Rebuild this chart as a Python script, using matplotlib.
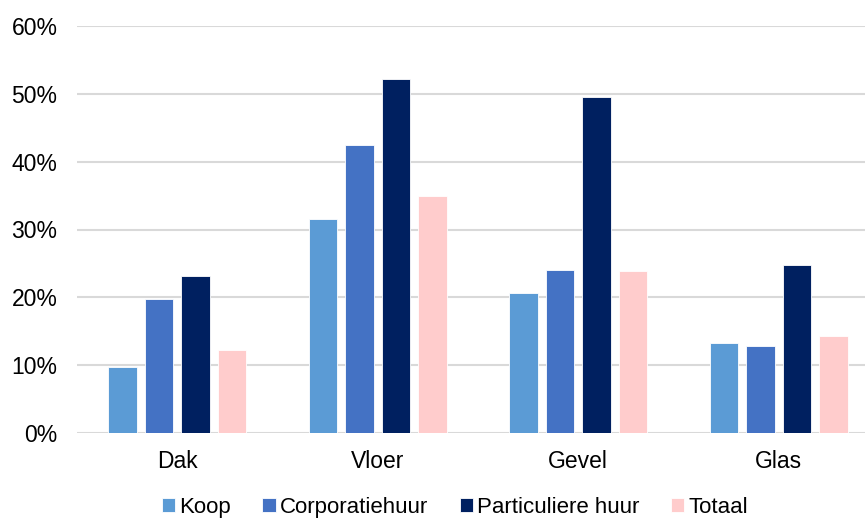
import matplotlib
matplotlib.use("Agg")
import matplotlib.pyplot as plt
import numpy as np
from matplotlib.ticker import FuncFormatter

categories = ["Dak", "Vloer", "Gevel", "Glas"]
series_names = ["Koop", "Corporatiehuur", "Particuliere huur", "Totaal"]
koop = [9.7, 31.5, 20.6, 13.2]
corporatiehuur = [19.7, 42.4, 24.0, 12.8]
particuliere_huur = [23.1, 52.2, 49.6, 24.8]
totaal = [12.3, 34.9, 23.9, 14.3]
colors = ["#5B9BD5", "#4472C4", "#002060", "#FFCCCC"]

plt.rcParams['font.family'] = ['Liberation Sans', 'DejaVu Sans']

fig = plt.figure(figsize=(8.65, 5.18), dpi=100)
ax = fig.add_axes([77/865, 1-433/518, (879-77)/865, (433-26)/518])

x = np.arange(len(categories))
width = 0.14
step = 0.182
all_series = [koop, corporatiehuur, particuliere_huur, totaal]
for i, (vals, name, c) in enumerate(zip(all_series, series_names, colors)):
    ax.bar(x + (i - 1.5) * step, np.array(vals) / 100, width=width, color=c,
           label=name, zorder=3, edgecolor='white', linewidth=0.6)

ax.set_xlim(-0.5, len(categories) - 0.5)
ax.set_ylim(0, 0.6)
ax.set_yticks(np.arange(0, 0.61, 0.1))
ax.yaxis.set_major_formatter(FuncFormatter(lambda v, p: f"{v*100:.0f}%"))
ax.set_xticks(x)
ax.set_xticklabels(categories)
ax.grid(axis='y', color='#D9D9D9', linewidth=1.5, zorder=0)
ax.tick_params(axis='both', length=0, labelsize=16.5, colors='#000000')
ax.tick_params(axis='x', pad=12)
ax.tick_params(axis='y', pad=14)
for s in ax.spines.values():
    s.set_visible(False)

leg = fig.legend(loc='lower center', bbox_to_anchor=(0.526, -0.038), ncol=4, frameon=False,
                 fontsize=16, handlelength=0.6, handleheight=0.6, handletextpad=0.2,
                 columnspacing=1.4)

fig.savefig("out.png", dpi=100)
